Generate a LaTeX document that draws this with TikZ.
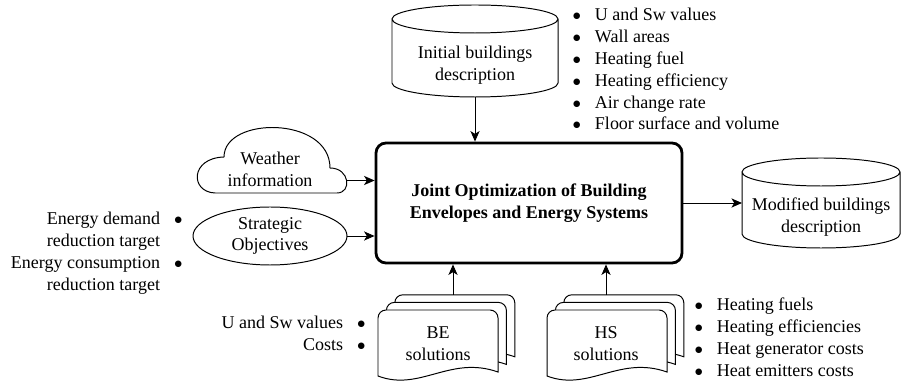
\documentclass[tikz,border=0pt]{standalone}
\usepackage{fontspec}
\setmainfont{Liberation Serif}
\usepackage{tikz}
\usetikzlibrary{arrows.meta,calc,shapes.geometric}
\newcommand{\figfont}{\fontsize{12.8pt}{15.5pt}\selectfont}
\newcommand{\bul}{$\bullet$}
\newcommand{\drum}[2]{%
  \draw ([yshift=0.35cm]#1.north west) -- ([yshift=0.35cm]#1.south west)
    arc[start angle=180, end angle=360, x radius=#2, y radius=0.35cm]
    -- ([yshift=0.35cm]#1.north east)
    arc[start angle=0, end angle=360, x radius=#2, y radius=0.35cm];}
\newcommand{\docpage}[2]{%
  \draw[fill=white, shift={(#1,#2)}] (0,-1.65) -- (0,-0.2)
    arc[start angle=180, end angle=90, radius=0.2] -- (2.8,0)
    arc[start angle=90, end angle=0, radius=0.2] -- (3,-1.55)
    .. controls (1.8,-1.125) and (1.05,-2.05) .. (0,-1.65) -- cycle;}

\begin{document}
\begin{tikzpicture}[>={Stealth[length=7.5pt,width=6.5pt,inset=2pt]},
      line width=0.7pt, font=\figfont,
      store/.style={outer sep=0pt, minimum height=1.6cm, align=center},
      task/.style={draw, rectangle, rounded corners=0.25cm, line width=2pt,
        minimum width=7.65cm, minimum height=3cm, align=center,
        font=\figfont\bfseries},
      goal/.style={draw, ellipse, minimum width=3.85cm, minimum height=1.45cm,
        inner sep=0pt, align=center},
      list/.style={inner sep=0pt}]
      \useasboundingbox (0,0) rectangle (22.55,-9.625);

      \node[task] (main) at (13.225,-5.075)
        {Joint Optimization of Building\\Envelopes and Energy Systems};

      % data stores
      \node[store, minimum width=4.15cm] (init) at (11.875,-1.625)
        {Initial buildings\\description};
      \drum{init}{2.075cm}
      \node[store, minimum width=3.95cm, minimum height=1.55cm] (result)
        at (20.525,-5.425) {Modified buildings\\description};
      \drum{result}{1.975cm}

      % inputs on the left
      \node[align=center] (weather) at (6.75,-4.225) {Weather\\information};
      \draw (5.375,-4.825) .. controls (4.75,-4.8) and (4.75,-3.95) .. (5.6,-3.925)
        .. controls (5.6,-2.9) and (8.25,-2.9) .. (8.25,-4.2)
        .. controls (8.75,-4.2) and (8.8,-4.825) .. (8.425,-4.825) -- cycle;
      \coordinate (weather out) at (8.665,-4.5125);

      \node[goal] (goal) at (6.75,-5.9) {Strategic\\Objectives};

      % solution sets
      \foreach \d in {2,1,0} {
        \docpage{9.45+0.21*\d}{-7.75+0.19*\d}
        \docpage{13.675+0.21*\d}{-7.75+0.19*\d}
      }
      \node[align=center] (be) at (10.95,-8.6) {BE\\solutions};
      \node[align=center] (hs) at (15.15,-8.6) {HS\\solutions};
      \coordinate (be top) at (11.325,-7.375);
      \coordinate (hs top) at (15.15,-7.375);

      % bullet lists
      \node[list, anchor=base west] (info) at (14.3,-0.525)
        {\begin{tabular}[t]{@{}c@{\hspace{10pt}}l@{}}
          \bul & U and Sw values\\
          \bul & Wall areas\\
          \bul & Heating fuel\\
          \bul & Heating efficiency\\
          \bul & Air change rate\\
          \bul & Floor surface and volume
        \end{tabular}};
      \node[list, anchor=base east] (aims) at (4.575,-5.625)
        {\begin{tabular}[t]{@{}r@{\hspace{10pt}}c@{}}
          Energy demand & \bul\\
          reduction target & \\
          Energy consumption & \bul\\
          reduction target &
        \end{tabular}};
      \node[list, anchor=base east] (belist) at (9.15,-8.225)
        {\begin{tabular}[t]{@{}r@{\hspace{10pt}}c@{}}
          U and Sw values & \bul\\
          Costs & \bul
        \end{tabular}};
      \node[list, anchor=base west] (hslist) at (17.35,-7.775)
        {\begin{tabular}[t]{@{}c@{\hspace{10pt}}l@{}}
          \bul & Heating fuels\\
          \bul & Heating efficiencies\\
          \bul & Heat generator costs\\
          \bul & Heat emitters costs
        \end{tabular}};

      \path[->]
      (init) edge (init |- main.north)
      (weather out) edge (weather out -| main.west)
      (goal) edge (goal -| main.west)
      (main) edge (main -| result.west)
      (be top) edge (be top |- main.south)
      (hs top) edge (hs top |- main.south)
      ;
\end{tikzpicture}
\end{document}
